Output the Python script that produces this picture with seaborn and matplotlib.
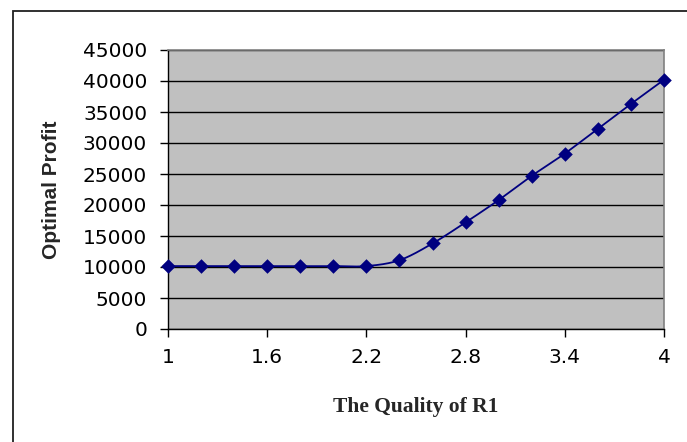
import numpy as np
import pandas as pd
import matplotlib
matplotlib.use("Agg")
import matplotlib.pyplot as plt
from matplotlib.patches import Rectangle
import seaborn as sns

# Optimal profit as a function of the quality of R1
quality = [1.0, 1.2, 1.4, 1.6, 1.8, 2.0, 2.2, 2.4, 2.6, 2.8, 3.0, 3.2, 3.4, 3.6, 3.8, 4.0]
profit = [10150, 10150, 10150, 10150, 10150, 10150, 10150, 11100, 13800,
          17200, 20800, 24700, 28300, 32300, 36300, 40200]
x_ticks = [1, 1.6, 2.2, 2.8, 3.4, 4]
x_tick_labels = ["1", "1.6", "2.2", "2.8", "3.4", "4"]
y_ticks = [0, 5000, 10000, 15000, 20000, 25000, 30000, 35000, 40000, 45000]

NAVY = "#000080"

sns.set_style("ticks")
plt.rcParams["font.family"] = ["DejaVu Sans"]

df = pd.DataFrame({"quality": quality, "profit": profit})


def smooth_curve(xs, ys, steps=30):
    """Cubic Bezier smoothing through every point (spreadsheet-style smoothed line)."""
    xs = np.asarray(xs, float)
    ys = np.asarray(ys, float)
    n = len(xs)
    out_x, out_y = [], []
    for i in range(n - 1):
        p0 = np.array([xs[max(i - 1, 0)], ys[max(i - 1, 0)]])
        p1 = np.array([xs[i], ys[i]])
        p2 = np.array([xs[i + 1], ys[i + 1]])
        p3 = np.array([xs[min(i + 2, n - 1)], ys[min(i + 2, n - 1)]])
        c1 = p1 + (p2 - p0) / 6.0
        c2 = p2 - (p3 - p1) / 6.0
        t = np.linspace(0, 1, steps, endpoint=(i == n - 2))[:, None]
        pts = ((1 - t) ** 3) * p1 + 3 * ((1 - t) ** 2) * t * c1 + 3 * (1 - t) * t ** 2 * c2 + t ** 3 * p2
        out_x.extend(pts[:, 0])
        out_y.extend(pts[:, 1])
    return pd.DataFrame({"quality": out_x, "profit": out_y})


curve = smooth_curve(quality, profit)

fig = plt.figure(figsize=(6.87, 4.42), dpi=100)
ax = fig.add_axes([168 / 687, 1 - 329 / 442, (664 - 168) / 687, (329 - 50) / 442])
ax.set_facecolor("#C0C0C0")

sns.lineplot(data=curve, x="quality", y="profit", ax=ax, color=NAVY,
             linewidth=1.3, sort=False, estimator=None, zorder=3)
sns.scatterplot(data=df, x="quality", y="profit", ax=ax, color=NAVY,
                marker="D", s=55, edgecolor=NAVY, linewidth=0, zorder=4,
                clip_on=False)

ax.set_xlim(1, 4)
ax.set_ylim(0, 45000)
ax.set_xticks(x_ticks)
ax.set_xticklabels(x_tick_labels)
ax.set_yticks(y_ticks)
ax.set_yticklabels([str(v) for v in y_ticks])

ax.grid(axis="y", color="black", linewidth=1.0)
ax.grid(axis="x", visible=False)
ax.set_axisbelow(True)

for side in ("top", "right"):
    ax.spines[side].set_visible(True)
    ax.spines[side].set_color("#808080")
    ax.spines[side].set_linewidth(1.2)
for side in ("left", "bottom"):
    ax.spines[side].set_color("black")
    ax.spines[side].set_linewidth(1.0)

ax.tick_params(axis="both", direction="out", length=6, width=1.0, color="black",
               labelsize=14.5, labelcolor="black")
ax.tick_params(axis="y", pad=9)
ax.tick_params(axis="x", pad=8)

ax.set_xlabel("The Quality of R1", family="Liberation Serif", fontweight="bold",
              fontsize=15.5)
ax.set_ylabel("Optimal Profit", family="Liberation Sans", fontweight="bold",
              fontsize=15)
ax.xaxis.set_label_coords(0.5, (329 - 397) / 279)
ax.yaxis.set_label_coords((61 - 168) / 496, 0.5)

# chart area frame
fig.patches.append(Rectangle((13 / 687, -0.05), 1.2, 1 - 11 / 442 + 0.05,
                             transform=fig.transFigure, fill=False,
                             edgecolor="#202020", linewidth=1.3))

fig.savefig("out.png", dpi=100)
